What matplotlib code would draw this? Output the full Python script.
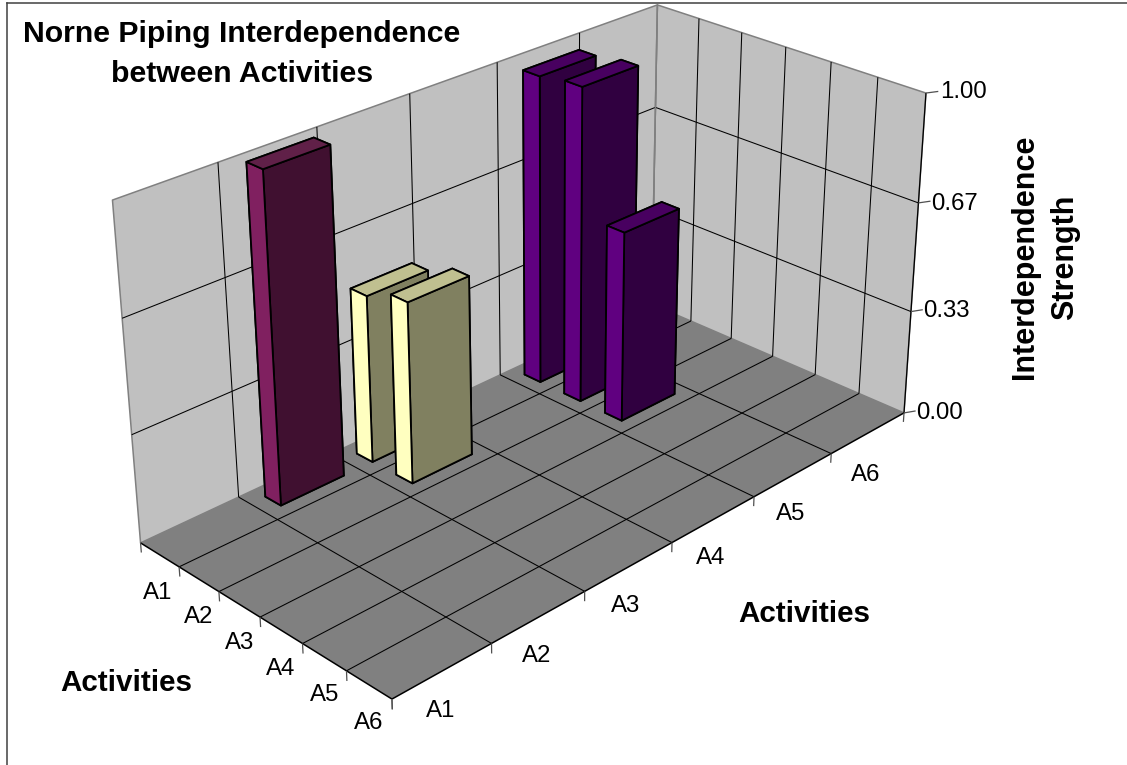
import numpy as np
import matplotlib
matplotlib.use("Agg")
import matplotlib.pyplot as plt
from matplotlib.lines import Line2D
from mpl_toolkits.mplot3d.art3d import Poly3DCollection, Line3DCollection

W, H = 1127, 765

# data
activities = ["A1", "A2", "A3", "A4", "A5", "A6"]
z_ticks = [0.0, 0.33, 0.67, 1.0]
z_labels = ["0.00", "0.33", "0.67", "1.00"]
bar_rows = [0, 0, 1, 0, 1, 2]   # along the left axis
bar_cols = [1, 2, 2, 4, 4, 4]   # along the right axis
bar_values = [1.0, 0.52, 0.56, 0.975, 0.99, 0.6]
bar_kinds = ["maroon", "yellow", "yellow", "purple", "purple", "purple"]

# left face, right face, top
kind_colors = {
    "maroon": ("#802060", "#401030", "#602048"),
    "yellow": ("#FFFFC0", "#808060", "#C0C090"),
    "purple": ("#600080", "#300040", "#480060"),
}

# camera calibration: box corners (row, col, z) -> picture pixel
corners = [(0, 0, 0), (6, 0, 0), (6, 6, 0), (0, 6, 0),
           (0, 0, 1), (6, 6, 1), (0, 6, 1)]
pixels = [(140, 543), (392, 699), (903, 413), (653, 304),
          (113, 200), (927, 93), (656, 5)]

A = []
for (x, y, z), (u, v) in zip(corners, pixels):
    A.append([x, y, z, 1, 0, 0, 0, 0, -u * x, -u * y, -u * z, -u])
    A.append([0, 0, 0, 0, x, y, z, 1, -v * x, -v * y, -v * z, -v])
p = np.linalg.svd(np.array(A, dtype=float))[2][-1].reshape(3, 4)
if p[2] @ np.array([3, 3, 0.5, 1]) < 0:
    p = -p
# depth row: far away = bigger, only used for sorting the faces of a bar
M = np.vstack([p[0], p[1], 0.01 * np.array([-1, 1, -1, 0]) * abs(p[2]).max(), p[2]])

fig = plt.figure(figsize=(W / 100, H / 100), dpi=100, facecolor="white")
plt.rcParams["font.family"] = ["Liberation Sans", "DejaVu Sans"]
ax = fig.add_axes([0, 0, 1, 1], projection="3d", computed_zorder=False)
ax.get_proj = lambda: M
ax.apply_aspect = lambda position=None: None
ax.viewLim.intervalx = (0, W)
ax.viewLim.intervaly = (H, 0)
ax.set_axis_off()
ax.patch.set_alpha(0)

# walls and floor
walls = [
    [(0, 0, 0), (0, 6, 0), (0, 6, 1), (0, 0, 1)],
    [(0, 6, 0), (6, 6, 0), (6, 6, 1), (0, 6, 1)],
]
ax.add_collection3d(Poly3DCollection(walls, facecolors="#C0C0C0", edgecolors="#808080",
                                     linewidths=1.1, zorder=1))
floor = [[(0, 0, 0), (6, 0, 0), (6, 6, 0), (0, 6, 0)]]
ax.add_collection3d(Poly3DCollection(floor, facecolors="#808080", edgecolors="none", zorder=2))


def segs(lines, color="black", lw=0.75, zo=3):
    ax.add_collection3d(Line3DCollection(lines, colors=color, linewidths=lw, zorder=zo))


grid = []
for i in range(1, 6):
    grid.append([(i, 0, 0), (i, 6, 0)])
    grid.append([(0, i, 0), (6, i, 0)])
    grid.append([(0, i, 0), (0, i, 1)])
    grid.append([(i, 6, 0), (i, 6, 1)])
for z in z_ticks[1:3]:
    grid.append([(0, 0, z), (0, 6, z)])
    grid.append([(0, 6, z), (6, 6, z)])
segs(grid)
segs([[(0, 6, 0), (0, 6, 1)]], color="#808080", lw=1.1)
segs([[(6, 6, 0), (6, 6, 1)]], lw=0.9)
segs([[(0, 0, 0), (6, 0, 0)], [(6, 0, 0), (6, 6, 0)]], lw=1.1)

# ticks
ticks = []
for i in range(7):
    ticks.append([(i, 0, 0), (i, 0, -0.03)])
    ticks.append([(6, i, 0), (6, i, -0.03)])
for z in z_ticks:
    ticks.append([(6, 6, z), (6.1, 6.1, z)])
segs(ticks, color="#505050", lw=0.9)

# bars, back to front
bar_x = 0.40
bar_y = 0.68
order = sorted(range(len(bar_values)), key=lambda k: (-bar_cols[k], bar_rows[k]))
for n, k in enumerate(order):
    left, right, top = kind_colors[bar_kinds[k]]
    # faces: -z, +z, -y, +y, -x, +x
    ax.bar3d(bar_rows[k] + (1 - bar_x) / 2, bar_cols[k] + (1 - bar_y) / 2, 0,
             bar_x, bar_y, bar_values[k],
             color=[right, top, left, left, right, right],
             edgecolor="black", linewidth=1.3, shade=False, zorder=10 + n)


def label(x, y, s, **kw):
    kw.setdefault("ha", "center")
    kw.setdefault("va", "center")
    kw.setdefault("color", "black")
    fig.text(x / W, 1 - y / H, s, **kw)


tick_fs = 17.3
left_pos = [(158, 593), (199, 617), (240, 643), (281, 669), (325, 695), (369, 723)]
right_pos = [(441, 711), (537, 656), (626, 606), (711, 558), (791, 514), (866, 475)]
for name, (x, y) in zip(activities, left_pos):
    label(x, y, name, fontsize=tick_fs)
for name, (x, y) in zip(activities, right_pos):
    label(x, y, name, fontsize=tick_fs)
z_pos = [(916, 413), (923, 311), (931, 204), (940, 92)]
for name, (x, y) in zip(z_labels, z_pos):
    label(x, y, name, fontsize=tick_fs, ha="left")

label(242, 54, "Norne Piping Interdependence\nbetween Activities", fontsize=21.8,
      fontweight="bold", linespacing=1.55)
label(126, 683, "Activities", fontsize=21.3, fontweight="bold")
label(804, 614, "Activities", fontsize=21.3, fontweight="bold")
label(1045, 257, "Interdependence\nStrength", fontsize=22, fontweight="bold",
      rotation=90, linespacing=1.47)

# chart frame
fig.add_artist(Line2D([6.5 / W, 6.5 / W], [0, 1 - 2.5 / H], color="#404040", lw=1.1,
                      transform=fig.transFigure))
fig.add_artist(Line2D([6.5 / W, 1], [1 - 2.5 / H, 1 - 2.5 / H], color="#404040", lw=1.1,
                      transform=fig.transFigure))

fig.savefig("out.png", dpi=100, facecolor="white")
